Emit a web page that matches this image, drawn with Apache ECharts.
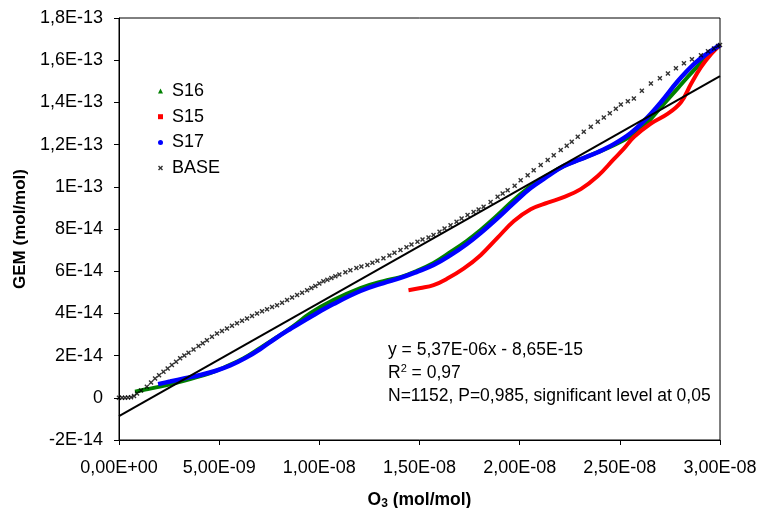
<!DOCTYPE html>
<html>
<head>
<meta charset="utf-8">
<script src="https://cdn.jsdelivr.net/npm/echarts@6/dist/echarts.min.js"></script>
<style>
  html, body { margin: 0; padding: 0; background: #fff; }
  #chart { width: 762px; height: 508px; }
</style>
</head>
<body>
<div id="chart"></div>
<script>
// GEM vs O3 scatter curves with linear fit
const FONT = '"Liberation Sans", Arial, sans-serif';

const xTickMin = 0, xTickMax = 3e-8, xTickStep = 5e-9;
const yTickMin = -2e-14, yTickMax = 1.8e-13, yTickStep = 2e-14;

const seriesNames = ['S16', 'S15', 'S17', 'BASE'];

// fitted line y = a*x + b
const fitSlope = 5.37e-6;
const fitIntercept = -8.65e-15;
const fitLabel = ['y = 5,37E-06x - 8,65E-15', 'R2 = 0,97', 'N=1152, P=0,985, significant level at 0,05'];

const s16 = [
  [0.80e-9, 0.29e-14], [1.30e-9, 0.39e-14], [2.05e-9, 0.53e-14], [2.80e-9, 0.70e-14],
  [3.55e-9, 0.89e-14], [4.55e-9, 1.17e-14], [5.40e-9, 1.50e-14], [6.20e-9, 1.86e-14],
  [7.05e-9, 2.36e-14], [7.90e-9, 2.88e-14], [8.70e-9, 3.40e-14], [9.55e-9, 4.01e-14],
  [10.70e-9, 4.63e-14], [12.05e-9, 5.20e-14], [13.20e-9, 5.53e-14], [14.05e-9, 5.72e-14],
  [14.85e-9, 6.01e-14], [15.70e-9, 6.39e-14], [16.55e-9, 6.91e-14], [17.35e-9, 7.43e-14],
  [18.05e-9, 7.95e-14], [18.90e-9, 8.66e-14], [19.70e-9, 9.37e-14], [20.55e-9, 10.03e-14],
  [21.40e-9, 10.55e-14], [22.20e-9, 10.98e-14], [23.05e-9, 11.31e-14], [23.90e-9, 11.64e-14],
  [24.70e-9, 11.97e-14], [25.55e-9, 12.40e-14], [26.30e-9, 12.97e-14], [27.05e-9, 13.77e-14],
  [27.90e-9, 14.68e-14], [28.70e-9, 15.53e-14], [29.40e-9, 16.19e-14], [30.00e-9, 16.72e-14]
];

const s15 = [
  [14.45e-9, 5.10e-14], [15.05e-9, 5.20e-14], [15.70e-9, 5.34e-14], [16.39e-9, 5.65e-14],
  [17.20e-9, 6.12e-14], [18.05e-9, 6.76e-14], [18.90e-9, 7.59e-14], [19.70e-9, 8.37e-14],
  [20.55e-9, 8.94e-14], [21.40e-9, 9.25e-14], [22.20e-9, 9.51e-14], [23.05e-9, 9.89e-14],
  [23.90e-9, 10.51e-14], [24.70e-9, 11.31e-14], [25.20e-9, 11.81e-14], [25.70e-9, 12.36e-14],
  [26.55e-9, 13.00e-14], [27.40e-9, 13.47e-14], [28.05e-9, 14.01e-14], [28.55e-9, 14.87e-14],
  [29.05e-9, 15.67e-14], [29.55e-9, 16.29e-14], [30.00e-9, 16.72e-14]
];

const s17 = [
  [1.95e-9, 0.65e-14], [2.55e-9, 0.77e-14], [3.30e-9, 0.93e-14], [4.05e-9, 1.08e-14],
  [4.80e-9, 1.27e-14], [5.55e-9, 1.53e-14], [6.30e-9, 1.88e-14], [7.05e-9, 2.31e-14],
  [7.80e-9, 2.81e-14], [8.55e-9, 3.26e-14], [9.55e-9, 3.83e-14], [10.70e-9, 4.44e-14],
  [12.05e-9, 5.06e-14], [13.20e-9, 5.44e-14], [14.05e-9, 5.68e-14], [14.85e-9, 5.96e-14],
  [15.70e-9, 6.29e-14], [16.55e-9, 6.76e-14], [17.35e-9, 7.28e-14], [18.05e-9, 7.81e-14],
  [18.90e-9, 8.52e-14], [19.70e-9, 9.23e-14], [20.55e-9, 9.94e-14], [21.40e-9, 10.50e-14],
  [22.20e-9, 10.98e-14], [23.05e-9, 11.31e-14], [23.90e-9, 11.64e-14], [24.70e-9, 12.02e-14],
  [25.55e-9, 12.55e-14], [26.30e-9, 13.21e-14], [27.05e-9, 14.01e-14], [27.90e-9, 15.01e-14],
  [28.70e-9, 15.81e-14], [29.40e-9, 16.34e-14], [30.00e-9, 16.72e-14]
];

const base = [
  [0, 0], [0.15e-9, 0], [0.3e-9, 0], [0.45e-9, 0.01e-14], [0.6e-9, 0.03e-14], [0.75e-9, 0.08e-14],
  [0.9e-9, 0.2e-14], [1.1e-9, 0.35e-14], [1.39e-9, 0.52e-14], [1.6e-9, 0.72e-14], [1.8e-9, 0.92e-14],
  [2.0e-9, 1.07e-14], [2.22e-9, 1.23e-14], [2.43e-9, 1.39e-14], [2.64e-9, 1.55e-14], [2.85e-9, 1.71e-14],
  [3.05e-9, 1.87e-14], [3.26e-9, 2.0e-14], [3.47e-9, 2.13e-14], [3.72e-9, 2.29e-14], [3.97e-9, 2.45e-14],
  [4.18e-9, 2.59e-14], [4.39e-9, 2.73e-14], [4.64e-9, 2.89e-14], [4.89e-9, 3.05e-14], [5.14e-9, 3.17e-14],
  [5.39e-9, 3.29e-14], [5.64e-9, 3.41e-14], [5.89e-9, 3.53e-14], [6.14e-9, 3.65e-14], [6.39e-9, 3.76e-14],
  [6.64e-9, 3.88e-14], [6.89e-9, 4.0e-14], [7.14e-9, 4.1e-14], [7.39e-9, 4.2e-14], [7.64e-9, 4.3e-14],
  [7.89e-9, 4.39e-14], [8.14e-9, 4.51e-14], [8.39e-9, 4.63e-14], [8.64e-9, 4.75e-14], [8.89e-9, 4.87e-14],
  [9.14e-9, 4.98e-14], [9.39e-9, 5.1e-14], [9.6e-9, 5.2e-14], [9.8e-9, 5.3e-14], [10.0e-9, 5.42e-14],
  [10.2e-9, 5.52e-14], [10.4e-9, 5.6e-14], [10.6e-9, 5.68e-14], [10.8e-9, 5.76e-14], [11.0e-9, 5.84e-14],
  [11.3e-9, 5.95e-14], [11.55e-9, 6.05e-14], [11.85e-9, 6.15e-14], [12.1e-9, 6.22e-14], [12.4e-9, 6.29e-14],
  [12.65e-9, 6.4e-14], [12.9e-9, 6.5e-14], [13.2e-9, 6.61e-14], [13.5e-9, 6.75e-14], [13.75e-9, 6.87e-14],
  [14.05e-9, 7.0e-14], [14.35e-9, 7.13e-14], [14.6e-9, 7.26e-14], [14.9e-9, 7.39e-14], [15.15e-9, 7.5e-14],
  [15.45e-9, 7.6e-14], [15.7e-9, 7.71e-14], [16.0e-9, 7.87e-14], [16.25e-9, 8.02e-14], [16.55e-9, 8.18e-14],
  [16.85e-9, 8.34e-14], [17.1e-9, 8.5e-14], [17.4e-9, 8.66e-14], [17.7e-9, 8.8e-14], [17.95e-9, 8.92e-14],
  [18.2e-9, 9.05e-14], [18.55e-9, 9.28e-14], [18.9e-9, 9.53e-14], [19.15e-9, 9.68e-14], [19.4e-9, 9.84e-14],
  [19.75e-9, 10.05e-14], [20.05e-9, 10.31e-14], [20.4e-9, 10.55e-14], [20.7e-9, 10.79e-14], [21.05e-9, 11.03e-14],
  [21.4e-9, 11.27e-14], [21.7e-9, 11.5e-14], [22.05e-9, 11.74e-14], [22.35e-9, 11.94e-14], [22.6e-9, 12.13e-14],
  [22.9e-9, 12.37e-14], [23.2e-9, 12.61e-14], [23.55e-9, 12.85e-14], [23.9e-9, 13.08e-14], [24.2e-9, 13.28e-14],
  [24.5e-9, 13.48e-14], [24.8e-9, 13.7e-14], [25.05e-9, 13.9e-14], [25.4e-9, 14.05e-14], [25.7e-9, 14.19e-14],
  [26.1e-9, 14.55e-14], [26.55e-9, 14.9e-14], [27.0e-9, 15.15e-14], [27.4e-9, 15.37e-14], [27.8e-9, 15.62e-14],
  [28.2e-9, 15.85e-14], [28.6e-9, 16.05e-14], [29.05e-9, 16.24e-14], [29.4e-9, 16.42e-14], [29.7e-9, 16.56e-14],
  [29.9e-9, 16.67e-14], [30.0e-9, 16.72e-14]
];

// small "x" marker drawn as a filled cross with heavy arms
const CROSS = 'path://M0,2 L2,0 L5,3 L8,0 L10,2 L7,5 L10,8 L8,10 L5,7 L2,10 L0,8 L3,5 Z';

function splitExp(v, digits) {
  const s = v.toExponential(digits);           // e.g. "1.80e-13"
  const [m, e] = s.split('e');
  return { m: m.replace('.', ','), e: parseInt(e, 10) };
}
function fmtY(v) {
  if (Math.abs(v) < 1e-20) return '0';
  let { m, e } = splitExp(v, 1);
  m = m.replace(/,0$/, '');
  const sign = e < 0 ? '-' : '+';
  return m + 'E' + sign + String(Math.abs(e)).padStart(2, '0');
}
function fmtX(v) {
  if (Math.abs(v) < 1e-20) return '0,00E+00';
  const { m, e } = splitExp(v, 2);
  const sign = e < 0 ? '-' : '+';
  return m + 'E' + sign + String(Math.abs(e)).padStart(2, '0');
}

const fitLine = [
  [xTickMin, fitSlope * xTickMin + fitIntercept],
  [xTickMax, fitSlope * xTickMax + fitIntercept]
];

const chart = echarts.init(document.getElementById('chart'), null, { renderer: 'canvas' });

const axisText = { color: '#000', fontFamily: FONT, fontSize: 18 };

chart.setOption({
  animation: false,
  backgroundColor: '#fff',
  textStyle: { fontFamily: FONT },
  grid: {
    left: 119, right: 42, top: 18, bottom: 68,
    containLabel: false, outerBoundsMode: 'none',
    show: true, borderColor: '#000', borderWidth: 1, backgroundColor: '#fff'
  },
  legend: {
    orient: 'vertical',
    left: 158, top: 82,
    padding: 0,
    itemWidth: 5, itemHeight: 5,
    itemGap: 7.7,
    selectedMode: false,
    textStyle: { color: '#000', fontFamily: FONT, fontSize: 18, lineHeight: 18, padding: [0, 0, 0, 4] },
    data: [
      { name: seriesNames[0], icon: 'triangle' },
      { name: seriesNames[1], icon: 'rect' },
      { name: seriesNames[2], icon: 'circle' },
      { name: seriesNames[3], icon: CROSS }
    ]
  },
  xAxis: {
    type: 'value',
    min: xTickMin, max: xTickMax, interval: xTickStep,
    name: '{a|O}{s|3}{a| (mol/mol)}',
    nameLocation: 'middle', nameGap: 50,
    nameTextStyle: {
      rich: {
        a: { fontFamily: FONT, fontSize: 17.5, fontWeight: 'bold', color: '#000', lineHeight: 20 },
        s: { fontFamily: FONT, fontSize: 12, fontWeight: 'bold', color: '#000', lineHeight: 12, verticalAlign: 'bottom' }
      }
    },
    axisLine: { onZero: false, lineStyle: { color: '#000', width: 1 } },
    axisTick: { show: true, inside: false, length: 5, lineStyle: { color: '#000' } },
    splitLine: { show: false },
    axisLabel: Object.assign({ margin: 19, formatter: fmtX }, axisText)
  },
  yAxis: {
    type: 'value',
    min: yTickMin, max: yTickMax, interval: yTickStep,
    name: 'GEM (mol/mol)',
    nameLocation: 'middle', nameGap: 89, nameRotate: 90,
    nameTextStyle: { fontFamily: FONT, fontSize: 17, fontWeight: 'bold', color: '#000' },
    axisLine: { onZero: false, lineStyle: { color: '#000', width: 1 } },
    axisTick: { show: true, inside: false, length: 5, lineStyle: { color: '#000' } },
    splitLine: { show: false },
    axisLabel: Object.assign({ margin: 16, formatter: fmtY }, axisText)
  },
  graphic: [
    {
      type: 'text', x: 388, y: 350, silent: true,
      style: { text: fitLabel[0], fill: '#000', font: '17.5px ' + FONT, verticalAlign: 'middle' }
    },
    {
      type: 'text', x: 388, y: 373, silent: true,
      style: {
        text: '{r|R}{s|2}{r| = 0,97}', verticalAlign: 'middle',
        rich: {
          r: { fontFamily: FONT, fontSize: 17.5, fill: '#000', lineHeight: 20 },
          s: { fontFamily: FONT, fontSize: 11, fill: '#000', lineHeight: 11, verticalAlign: 'top' }
        }
      }
    },
    {
      type: 'text', x: 388, y: 396, silent: true,
      style: { text: fitLabel[2], fill: '#000', font: '17.5px ' + FONT, verticalAlign: 'middle' }
    }
  ],
  series: [
    {
      name: seriesNames[0], type: 'line', data: s16, smooth: 0.4, showSymbol: false,
      itemStyle: { color: '#008000' }, lineStyle: { color: '#008000', width: 4 }, z: 2
    },
    {
      name: seriesNames[1], type: 'line', data: s15, smooth: 0.4, showSymbol: false,
      itemStyle: { color: '#ff0000' }, lineStyle: { color: '#ff0000', width: 4 }, z: 3
    },
    {
      name: seriesNames[2], type: 'line', data: s17, smooth: 0.4, showSymbol: false,
      itemStyle: { color: '#0000ff' }, lineStyle: { color: '#0000ff', width: 4.5 }, z: 4
    },
    {
      name: seriesNames[3], type: 'scatter', data: base, symbol: CROSS, symbolSize: 5,
      itemStyle: { color: '#000' }, z: 5
    },
    {
      name: 'fit', type: 'line', data: fitLine, showSymbol: false, silent: true,
      lineStyle: { color: '#000', width: 2 }, z: 6
    }
  ]
});
</script>
</body>
</html>
